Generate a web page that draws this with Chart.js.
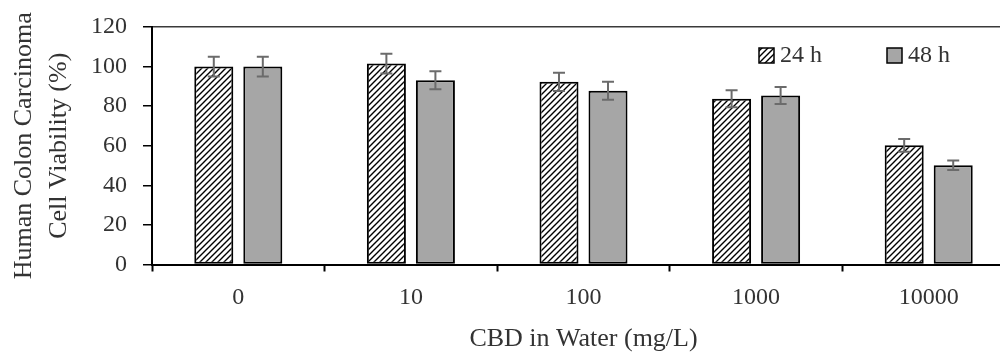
<!DOCTYPE html>
<html><head><meta charset="utf-8">
<script src="https://cdn.jsdelivr.net/npm/chart.js@4"></script>
<style>
html,body{margin:0;padding:0;background:#fff;overflow:hidden;width:1000px;height:352px}
canvas{display:block}
</style></head>
<body><canvas id="c" width="1015" height="352"></canvas>
<script>
const categories = ['0', '10', '100', '1000', '10000'];
const seriesLabels = ['24 h', '48 h'];
const viability24h = [100, 101.5, 92.3, 83.7, 60.2];
const viability48h = [100, 93.1, 87.8, 85.4, 50.2];
const error24h = [5, 5, 4.6, 4.3, 3.2];
const error48h = [5, 4.6, 4.5, 4.3, 2.4];
const yTicks = [0, 20, 40, 60, 80, 100, 120];
const yTitle = ['Human Colon Carcinoma', 'Cell Viability (%)'];
const xTitle = 'CBD in Water (mg/L)';

const FONT = "'Liberation Serif', 'Times New Roman', serif";
const TEXT = '#333333';
const canvas = document.getElementById('c');
const ctx0 = canvas.getContext('2d');

function makeHatch() {
  const s = 6;
  const c = document.createElement('canvas');
  c.width = s; c.height = s;
  const g = c.getContext('2d');
  g.fillStyle = '#fff'; g.fillRect(0, 0, s, s);
  g.strokeStyle = '#000'; g.lineWidth = 1.4;
  g.beginPath();
  g.moveTo(-1, s + 1); g.lineTo(s + 1, -1);
  g.moveTo(-2, 2); g.lineTo(2, -2);
  g.moveTo(s - 2, s + 2); g.lineTo(s + 2, s - 2);
  g.stroke();
  return ctx0.createPattern(c, 'repeat');
}
const hatch = makeHatch();
const grayFill = '#a6a6a6';

const errorBars = {
  id: 'errorBars',
  afterDatasetsDraw(chart) {
    const ctx = chart.ctx, y = chart.scales.y;
    chart.data.datasets.forEach((ds, di) => {
      const meta = chart.getDatasetMeta(di);
      meta.data.forEach((bar, i) => {
        const v = ds.data[i], e = ds.errors[i];
        const yt = y.getPixelForValue(v + e), yb = y.getPixelForValue(v - e);
        ctx.save();
        ctx.strokeStyle = '#6b6b6b'; ctx.lineWidth = 2;
        ctx.beginPath();
        ctx.moveTo(bar.x, yt); ctx.lineTo(bar.x, yb);
        ctx.moveTo(bar.x - 6, yt); ctx.lineTo(bar.x + 6, yt);
        ctx.moveTo(bar.x - 6, yb); ctx.lineTo(bar.x + 6, yb);
        ctx.stroke();
        ctx.restore();
      });
    });
  }
};

const customLegend = {
  id: 'customLegend',
  afterDraw(chart) {
    const ctx = chart.ctx;
    const pos = [759, 887];
    const by = 48, bs = 15;
    chart.data.datasets.forEach((ds, i) => {
      const bx = pos[i];
      ctx.save();
      ctx.fillStyle = ds.backgroundColor;
      ctx.fillRect(bx, by, bs, bs);
      ctx.strokeStyle = '#000'; ctx.lineWidth = 1.5;
      ctx.strokeRect(bx, by, bs, bs);
      ctx.fillStyle = TEXT;
      ctx.font = '24px ' + FONT;
      ctx.textBaseline = 'middle';
      ctx.textAlign = 'left';
      ctx.fillText(ds.label, bx + bs + 6, by + bs / 2 + 0.5);
      ctx.restore();
    });
  }
};

new Chart(canvas, {
  type: 'bar',
  data: {
    labels: categories,
    datasets: [
      { label: seriesLabels[0], data: viability24h, errors: error24h,
        backgroundColor: hatch, borderColor: '#000', borderWidth: 2, borderSkipped: false },
      { label: seriesLabels[1], data: viability48h, errors: error48h,
        backgroundColor: grayFill, borderColor: '#000', borderWidth: 2, borderSkipped: false }
    ]
  },
  options: {
    responsive: false,
    animation: false,
    devicePixelRatio: 1,
    categoryPercentage: 0.568,
    barPercentage: 0.796,
    layout: { padding: { top: 27, left: 0, right: 0, bottom: 0 } },
    plugins: { legend: { display: false }, tooltip: { enabled: false } },
    scales: {
      x: {
        offset: true,
        grid: { display: true, offset: true, drawOnChartArea: false, drawTicks: true,
                tickLength: 7, tickColor: '#000', tickWidth: 2 },
        border: { display: true, color: '#000', width: 2 },
        ticks: { color: TEXT, font: { family: FONT, size: 24 }, padding: 12, maxRotation: 0 },
        title: { display: true, text: xTitle, color: TEXT,
                 font: { family: FONT, size: 26, lineHeight: 0.95 }, padding: { top: 0, bottom: 0 } },
        afterFit(scale) { scale.height = 352 - 264.5; scale.paddingLeft = 0; scale.paddingRight = 0; }
      },
      y: {
        min: 0, max: 120,
        afterBuildTicks(scale) { scale.ticks = yTicks.map(v => ({ value: v })); },
        grid: {
          color: c => (c.tick && c.tick.value === 120) ? '#3a3a3a' : 'rgba(0,0,0,0)',
          lineWidth: 1.5, drawTicks: true, tickLength: 9, tickColor: '#000', tickWidth: 1.5
        },
        border: { display: true, color: '#000', width: 2 },
        ticks: { color: TEXT, font: { family: FONT, size: 24 }, padding: 16 },
        title: { display: true, text: yTitle, color: TEXT,
                 font: { family: FONT, size: 26, lineHeight: 1.35 }, padding: { top: 7, bottom: 0 } },
        afterFit(scale) { scale.width = 152; scale.paddingTop = 0; scale.paddingBottom = 0; }
      }
    }
  },
  plugins: [errorBars, customLegend]
});
</script>
</body></html>
